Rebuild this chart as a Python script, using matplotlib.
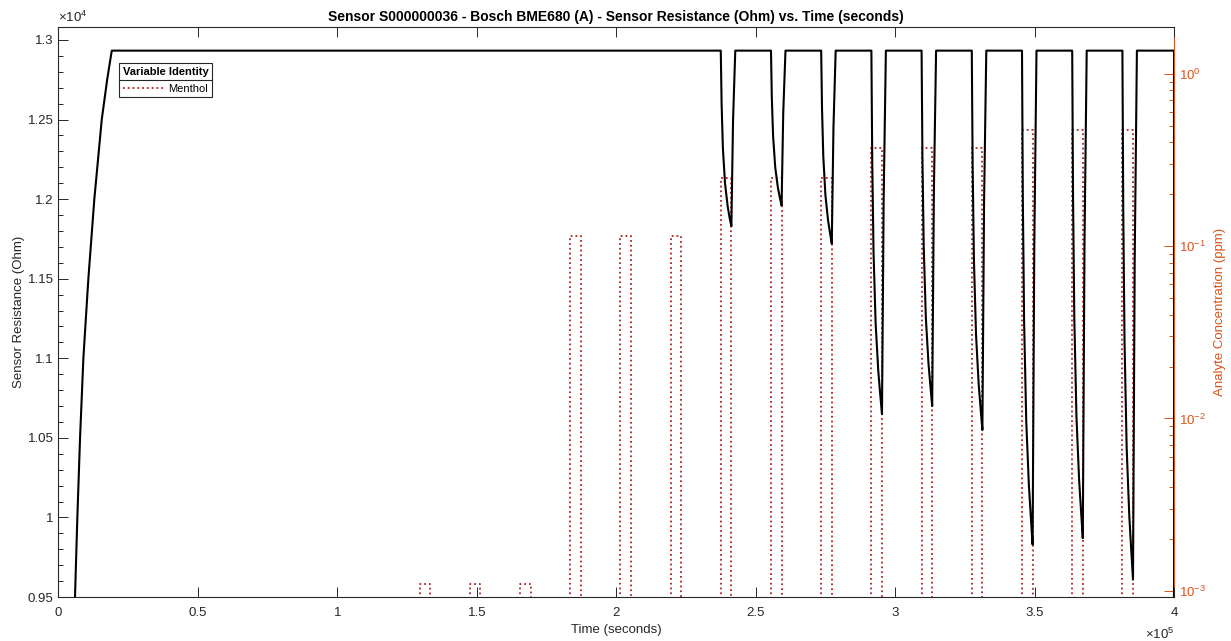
import matplotlib
matplotlib.use("Agg")
import matplotlib.pyplot as plt
from matplotlib.ticker import MultipleLocator, FuncFormatter, LogLocator, NullFormatter
from matplotlib.lines import Line2D

plt.rcParams['font.family'] = ['Liberation Sans', 'DejaVu Sans']
plt.rcParams['mathtext.fontset'] = 'custom'
plt.rcParams['mathtext.rm'] = 'Liberation Sans'
plt.rcParams['mathtext.it'] = 'Liberation Sans:italic'
plt.rcParams['mathtext.bf'] = 'Liberation Sans:bold'

# ---------------- data ----------------
# Sensor resistance (Ohm) vs time (s)
resistance_time = [
    5800, 6810, 7780, 8970, 10760, 12900, 15560, 17500, 19150,
    237500, 237800, 238260, 239020, 239970, 240730, 241300, 241900, 242700,
    255500, 255800, 256260, 257020, 257970, 258730, 259300, 259900, 260700,
    273500, 273800, 274260, 275020, 275970, 276730, 277300, 277900, 278700,
    291500, 291800, 292260, 293020, 293970, 294730, 295300, 295900, 296700,
    309500, 309800, 310260, 311020, 311970, 312730, 313300, 313900, 314700,
    327500, 327800, 328260, 329020, 329970, 330730, 331300, 331900, 332700,
    345500, 345800, 346260, 347020, 347970, 348730, 349300, 349900, 350700,
    363500, 363800, 364260, 365020, 365970, 366730, 367300, 367900, 368700,
    381500, 381800, 382260, 383020, 383970, 384730, 385300, 385900, 386700,
    400000, 400000,
]
resistance_ohm = [
    9400, 10000, 10500, 11000, 11500, 12000, 12500, 12750, 12933,
    12933, 12600, 12320, 12100, 11955, 11877, 11830, 12495, 12933,
    12933, 12640, 12396, 12201, 12073, 12005, 11960, 12544, 12933,
    12933, 12570, 12267, 12025, 11866, 11781, 11720, 12448, 12933,
    12933, 12247, 11676, 11219, 10921, 10761, 10650, 12000, 12933,
    12933, 12263, 11705, 11258, 10968, 10812, 10700, 12040, 12933,
    12933, 12218, 11622, 11146, 10836, 10669, 10550, 11980, 12933,
    12933, 12002, 11226, 10606, 10202, 9985, 9830, 11692, 12933,
    12933, 12014, 11248, 10636, 10238, 10023, 9870, 11708, 12933,
    12933, 11936, 11105, 10441, 10009, 9776, 9610, 11604, 12933,
    12933, 9000,
]

# Menthol exposure pulses
pulse_start = [129500, 147500, 165500, 183500, 201500, 219500, 237500, 255500,
               273500, 291500, 309500, 327500, 345500, 363500, 381500]
pulse_end = [133300, 151300, 169300, 187300, 205300, 223300, 241300, 259300,
             277300, 295300, 313300, 331300, 349300, 367300, 385300]
pulse_ppm = [0.0011, 0.0011, 0.0011, 0.115, 0.115, 0.115, 0.25, 0.25, 0.25,
             0.37, 0.37, 0.37, 0.47, 0.47, 0.47]
baseline_ppm = 1e-4   # zero concentration (below the visible log range)

# ---------------- build step series ----------------
conc_t = [0]
conc_v = [baseline_ppm]
for s, e, c in zip(pulse_start, pulse_end, pulse_ppm):
    conc_t += [s, s, e, e]
    conc_v += [baseline_ppm, c, c, baseline_ppm]
conc_t.append(400000)
conc_v.append(baseline_ppm)

# ---------------- figure ----------------
ORANGE = '#D95319'
DARK = '#262626'
RED = '#B22222'
fig = plt.figure(figsize=(12.31, 6.41), dpi=100)
ax = fig.add_axes([0.0474, 0.0686, 0.9063, 0.8894])
ax2 = ax.twinx()

ax.plot(resistance_time, resistance_ohm, color='black', lw=1.5, zorder=3)
ax.set_xlim(0, 400000)
ax.set_ylim(9500, 13082)

ax.xaxis.set_major_locator(MultipleLocator(50000))
ax.xaxis.set_major_formatter(FuncFormatter(lambda v, p: '%g' % (v / 1e5)))
ax.yaxis.set_major_locator(MultipleLocator(500))
ax.yaxis.set_minor_locator(MultipleLocator(100))
ax.yaxis.set_major_formatter(FuncFormatter(lambda v, p: '%g' % (v / 1e4)))

ax.tick_params(axis='both', which='major', direction='in', length=7, width=0.7,
               color=DARK, labelsize=9.5, labelcolor=DARK)
ax.tick_params(axis='x', top=True, pad=7)
ax.tick_params(axis='y', which='minor', direction='in', length=3.5, width=0.7, color=DARK)
for sp in ['left', 'top', 'bottom']:
    ax.spines[sp].set_color(DARK)
    ax.spines[sp].set_linewidth(0.8)
ax.spines['right'].set_visible(False)

ax.set_xlabel('Time (seconds)', fontsize=9.5, color=DARK, labelpad=4)
ax.set_ylabel('Sensor Resistance (Ohm)', fontsize=9.5, color=DARK, labelpad=2)
ax.set_title('Sensor S000000036 - Bosch BME680 (A) - Sensor Resistance (Ohm) vs. Time (seconds)',
             fontsize=10, fontweight='bold', color='black', pad=4)

ax.text(0.0, 1.003, r'$\times 10^{4}$', transform=ax.transAxes, fontsize=9.5,
        color=DARK, ha='left', va='bottom')
ax.text(1.0, -0.052, r'$\times 10^{5}$', transform=ax.transAxes, fontsize=9.5,
        color=DARK, ha='right', va='top')

# right axis
ax2.plot(conc_t, conc_v, color=RED, lw=1.3, ls=':', zorder=2, label='Menthol')
ax2.set_yscale('log')
ax2.set_ylim(9.2e-4, 1.87)
ax2.yaxis.set_major_locator(LogLocator(base=10, numticks=10))
ax2.yaxis.set_minor_locator(LogLocator(base=10, subs=range(2, 10), numticks=20))
ax2.yaxis.set_minor_formatter(NullFormatter())
ax2.tick_params(axis='y', which='major', direction='in', length=7, width=0.7,
                color=ORANGE, labelcolor=ORANGE, labelsize=9.5)
ax2.tick_params(axis='y', which='minor', direction='in', length=3.5, width=0.7, color=ORANGE)
for sp in ['left', 'top', 'bottom']:
    ax2.spines[sp].set_visible(False)
ax2.spines['right'].set_color(ORANGE)
ax2.spines['right'].set_linewidth(0.8)
ax2.set_ylabel('Analyte Concentration (ppm)', fontsize=9.5, color=ORANGE, labelpad=6)
ax.set_zorder(ax2.get_zorder() + 1)
ax.patch.set_visible(False)

leg = ax.legend(handles=[Line2D([], [], color=RED, lw=1.3, ls=':')],
                labels=['Menthol'], title='Variable Identity',
                loc='upper left', bbox_to_anchor=(0.0544, 0.9368), borderaxespad=0,
                fontsize=8, title_fontproperties={'weight': 'bold', 'size': 8},
                fancybox=False, framealpha=1, edgecolor=DARK, handlelength=3.6,
                handletextpad=0.4, borderpad=0.32, labelspacing=0.65)
leg.get_frame().set_linewidth(0.8)

fig.canvas.draw()
fb = leg.get_frame().get_window_extent()
tb = leg.get_title().get_window_extent()
eb = leg.get_texts()[0].get_window_extent()
ysep = 0.5 * (tb.y0 + eb.y1)
inv = fig.transFigure.inverted()
(x0, y0) = inv.transform((fb.x0, ysep))
(x1, _) = inv.transform((fb.x1, ysep))
fig.add_artist(Line2D([x0, x1], [y0, y0], transform=fig.transFigure, color=DARK, lw=0.8, zorder=10))

fig.savefig('out.png', dpi=100)
